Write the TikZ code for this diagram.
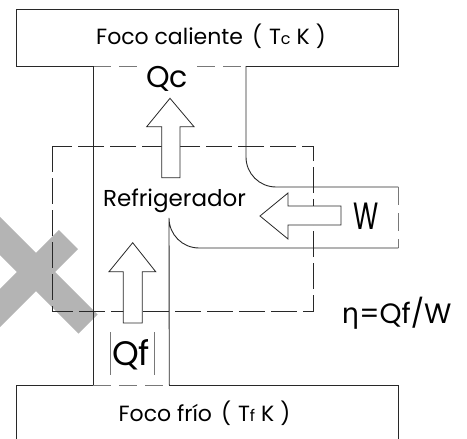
\documentclass[tikz,border=0pt]{standalone}
\usepackage{fontspec}
\setmainfont{Poppins}
\newfontfamily\grkfont{DejaVu Sans}
\definecolor{xgray}{RGB}{180,180,180}
\definecolor{lncol}{RGB}{40,40,40}
\definecolor{dshcol}{RGB}{120,120,120}
\begin{document}
\begin{tikzpicture}[x=1pt,y=-1pt,
  ln/.style={draw=lncol,line width=0.9pt},
  dshg/.style={draw=dshcol,line width=0.9pt,dash pattern=on 18pt off 8pt},
  rectd/.style={draw=lncol,line width=0.8pt,dash pattern=on 26pt off 6pt},
  harrow/.style={draw=lncol,line width=0.8pt,fill=white,line join=miter},
  txt/.style={inner sep=0pt,anchor=base,text=black}]
\useasboundingbox (0,0) rectangle (467,439);
\clip (0,0) rectangle (467,439);
% grey cross
\draw[xgray,line width=27pt] (68.5,239.5) -- (-30,338);
\draw[xgray,line width=27pt] (88,324) -- (-30,206);
% named corner points
\coordinate (tbl) at (16.7,66);
\coordinate (tbr) at (398.3,66);
\coordinate (cl) at (93,66);
\coordinate (cr) at (246,66);
% top reservoir
\draw[ln] (cl) -- (tbl) -- (16.7,9.3) -- (398.3,9.3) -- (tbr) -- (cr);
\draw[dshg] (cl) -- (cr);
% bottom reservoir
\coordinate (bl) at (93,385);
\coordinate (br) at (169.3,385);
\draw[ln] (16.7,450) -- (16.7,385) -- (bl);
\draw[ln] (br) -- (398.3,385) -- (398.3,450);
\draw[dshg] (bl) -- (br);
% channel
\draw[ln] (cl) -- (bl);
\draw[ln] (cr) -- (246,157) arc[start angle=180,end angle=90,radius=30] -- (398.3,187) coordinate (wt);
\coordinate (wb) at (398.3,248);
\draw[dshg] (wt) -- (wb);
\draw[ln] (wb) -- (199,248) arc[start angle=90,end angle=180,radius=30] -- (br);
% refrigerator boundary
\draw[rectd] (52,146) rectangle (313,311);
% arrows
\draw[harrow] (170,98.3) -- (194,126.7) -- (180,126.7) -- (180,177.7) -- (161.7,177.7) -- (161.7,126.7) -- (146.7,126.7) -- cycle;
\draw[harrow] (260,216) -- (288,193) -- (288,206) -- (341,206) -- (341,225) -- (288,225) -- (288,239) -- cycle;
\draw[harrow] (132.7,242.7) -- (155.7,271.7) -- (142.3,271.7) -- (142.3,323) -- (123.3,323) -- (123.3,271.7) -- (109,271.7) -- cycle;
% bars round Qf
\draw[draw=dshcol,line width=0.8pt] (110,332) -- (110,375);
\draw[draw=dshcol,line width=0.8pt] (154,332) -- (154,375);
% texts
\node[txt] (hot) at (211,45) {\fontsize{22}{22}\selectfont Foco caliente\hspace{9pt}(\hspace{7pt}T{\fontsize{16}{16}\selectfont c}\hspace{6pt}K\hspace{6pt})};
\node[txt,fill=white,inner sep=2pt] (qc) at (167,88) {\fontsize{30}{30}\selectfont Qc};
\node[txt] (ref) at (174.5,206.7) {\fontsize{23}{23}\selectfont Refrigerador};
\node[txt,xscale=0.68] (w) at (366.5,229) {\fontsize{38}{38}\selectfont W};
\node[txt] (qf) at (131,365) {\fontsize{34}{34}\selectfont Qf};
\node[txt] (eta) at (396.5,323) {\fontsize{28}{28}\selectfont {\grkfont η}=Qf/W};
\node[txt] (cold) at (204.5,421.7) {\fontsize{22}{22}\selectfont Foco frío\hspace{9pt}(\hspace{7pt}T{\fontsize{16}{16}\selectfont f}\hspace{6pt}K\hspace{6pt})};
\end{tikzpicture}
\end{document}
